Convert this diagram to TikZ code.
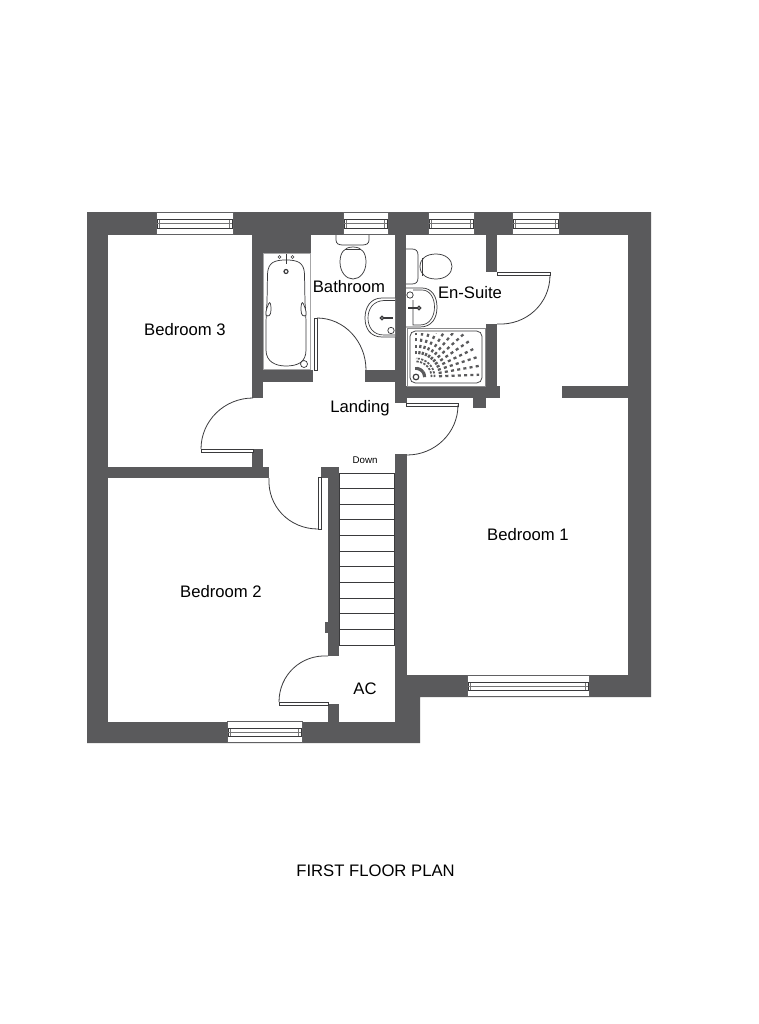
\documentclass[tikz,border=0pt]{standalone}
\usepackage{fontspec}
\setmainfont{Liberation Sans}
\usetikzlibrary{calc}
\definecolor{wall}{HTML}{5A5A5C}
\definecolor{ink}{HTML}{3A3A3C}
\tikzset{
  wallfill/.style={fill=wall,draw=none},
  room/.style={fill=white,draw=none},
  thin line/.style={draw=ink,line width=.6pt},
  fix/.style={draw=ink,line width=.55pt,fill=white},
  leaf/.style={draw=ink,line width=.6pt,fill=white},
  swing/.style={draw=ink,line width=.6pt},
  lab/.style={anchor=base,inner sep=0pt,font=\fontsize{12.5pt}{14pt}\selectfont,text=black},
  small lab/.style={anchor=base,inner sep=0pt,font=\fontsize{7.3pt}{9pt}\selectfont,text=black},
}
\newcommand\rrect[4]{\fill[room] (#1,#2) rectangle (#3,#4);}
\newcommand\wrect[4]{\fill[wallfill] (#1,#2) rectangle (#3,#4);}
% door: leaf rectangle + swing arc (A to B about C)
\newcommand\doorarc[3]{\draw[swing] (#1) .. controls ($(#1)+0.5523*(#2)-0.5523*(#3)$) and ($(#2)+0.5523*(#1)-0.5523*(#3)$) .. (#2);}
% horizontal window x0,x1,ytop,ybottom
\newcommand\winh[4]{%
  \fill[white] (#1,#3) rectangle (#2,#4);
  \draw[draw=ink!80,line width=.55pt] (#1,#3+.3) -- (#2,#3+.3) (#1,#4-.6) -- (#2,#4-.6) (#1,#3) -- (#1,#4) (#2,#3) -- (#2,#4);
  \draw[draw=ink,line width=.6pt] (#1+1,#3+7.5) rectangle (#2-1,#4-7);
  \draw[draw=ink!70,line width=.9pt] (#1+1,{(#3+#4)/2+.2}) -- (#2-1,{(#3+#4)/2+.2});
  \draw[draw=ink!70,line width=.5pt] (#1+3.5,#3+7.5) -- (#1+3.5,#4-7) (#2-3.5,#3+7.5) -- (#2-3.5,#4-7);
}
\begin{document}
\begin{tikzpicture}[x=.75pt,y=-.75pt]
\useasboundingbox (0,0) rectangle (759,1024);
\fill[white] (0,0) rectangle (759,1024);
% shell
\fill[wallfill] (87,212) -- (651,212) -- (651,697) -- (420,697) -- (420,743) -- (87,743) -- cycle;
% rooms
\rrect{108}{235}{252}{467}   % bedroom 3
\rrect{252}{398}{264}{449}   % bed3 door opening
\rrect{108}{478}{328}{722}   % bedroom 2
\rrect{263}{253}{311}{370}   % bath alcove
\rrect{311}{235}{395}{370}   % bathroom
\rrect{313}{370}{365}{382}   % bathroom door
\rrect{263}{382}{395}{467}   % landing
\rrect{269}{467}{321}{478}   % bed 2 door
\rrect{339}{467}{395}{722}   % stair + AC
\rrect{321}{478}{328}{530}   % door recess
\rrect{328}{656}{339}{704}   % AC door
\rrect{395}{403}{407}{454}   % bed 1 door
\rrect{406}{235}{486}{386}   % en-suite
\rrect{486}{272}{497}{324}   % en-suite door
\rrect{497}{235}{628}{386}   % upper bed 1
\rrect{500}{386}{562}{398}
\rrect{407}{398}{628}{675}   % bedroom 1
% wall details
\wrect{473}{398}{486}{408}
\wrect{325}{622}{328}{633}
% windows
\winh{156}{233}{212}{235}
\winh{343}{388}{212}{235}
\winh{428}{474}{212}{235}
\winh{512}{559}{212}{235}
\winh{467}{589}{675}{697}
\winh{227}{302}{721}{743}
% doors
\draw[leaf] (201,449) rectangle (253,452);
\doorarc{201,449}{253,398}{253,449}
\draw[leaf] (314,318) rectangle (317,370);
\doorarc{317,318}{366,370}{317,370}
\draw[leaf] (318,477) rectangle (321.5,529);
\doorarc{318,529}{269,478}{321,478}
\draw[leaf] (406,403) rectangle (458,406);
\doorarc{458,405}{407,455}{407,405}
\draw[leaf] (497,272) rectangle (550,275);
\doorarc{550,275}{497,324}{497,272}
\draw[leaf] (279,702) rectangle (328,705);
\doorarc{279,702}{328,656}{328,705}
% stairs
\draw[thin line] (339,473) rectangle (394,645);
\foreach \k in {1,...,10} {\draw[thin line] (339,645-15.64*\k) -- (394,645-15.64*\k);}
% bath
\draw[draw=ink!45,line width=.5pt] (263.5,253.5) rectangle (310.5,369.5);
\draw[fix] (286,260) .. controls (275,260) and (268,262) .. (267.5,274) -- (267,303)
  .. controls (266,312) and (266,320) .. (266,350) .. controls (266,362) and (276,366) .. (286,366)
  .. controls (298,366) and (306,362) .. (306,350) .. controls (306,320) and (306,312) .. (305,303)
  -- (304.5,274) .. controls (304,262) and (297,260) .. (286,260) -- cycle;
\draw[fix] (268.5,304) .. controls (270,301) and (271,303) .. (271,310) .. controls (271,316) and (268,317) .. (266,315) .. controls (265.5,311) and (267,308) .. (268.5,304) -- cycle;
\draw[fix] (303.5,304) .. controls (302,301) and (301,303) .. (301,310) .. controls (301,316) and (304,317) .. (306,315) .. controls (306.5,311) and (305,308) .. (303.5,304) -- cycle;
\draw[ink,line width=.7pt] (286,254) -- (286,264);
\draw[ink,line width=.5pt] (279.5,257) circle (1.5) (292.5,257) circle (1.5);
\draw[ink,line width=.9pt] (286,271.5) circle (2);
\draw[fix] (304,364) circle (3.5);
% bathroom WC
\draw[fix] (336,235) -- (336,240) .. controls (336,244) and (339,245) .. (343,245) -- (362,245) .. controls (366,245) and (369,244) .. (369,240) -- (369,235);
\draw[fix] (340,262) .. controls (340,253) and (344,247) .. (353,247) .. controls (362,247) and (366,253) .. (366,262) .. controls (366,272) and (360,279) .. (353,279) .. controls (346,279) and (340,272) .. (340,262) -- cycle;
\draw[ink,line width=.5pt] (345,249) -- (361,249);
% bathroom basin
\draw[fix] (395,298) -- (382,298) .. controls (370,298) and (365,308) .. (365,318) .. controls (365,328) and (370,337) .. (382,337) -- (395,337);
\draw[ink,line width=.5pt] (395,300.5) -- (384,300.5) .. controls (373,301) and (368,309) .. (368,318) .. controls (368,327) and (373,335) .. (384,335) -- (395,335);
\draw[ink,line width=.9pt] (382,318) circle (1.8);
\draw[ink,line width=.8pt] (384,318) -- (393,318);
\draw[fix] (391,330.5) circle (3.2);
% en-suite WC
\draw[fix] (406,249) -- (412,249) .. controls (416,249) and (418,251) .. (418,255) -- (418,278) .. controls (418,282) and (416,284) .. (412,284) -- (406,284);
\draw[fix] (420,266.5) .. controls (420,259) and (426,254) .. (436,254) .. controls (446,254) and (452,260) .. (452,266.5) .. controls (452,273) and (446,279) .. (436,279) .. controls (426,279) and (420,274) .. (420,266.5) -- cycle;
\draw[ink,line width=.5pt] (422,258) -- (422,276);
% en-suite basin
\draw[fix] (406,288) -- (422,288) .. controls (432,288) and (437,297) .. (437,307) .. controls (437,318) and (432,327) .. (420,327) -- (406,327) ;
\draw[ink,line width=.5pt] (413,290) -- (422,290) .. controls (430,290) and (434.5,298) .. (434.5,307) .. controls (434.5,316) and (430,325) .. (420,325) -- (413,325) -- (413,300);
\draw[ink,line width=.9pt] (419,308) circle (1.8);
\draw[ink,line width=.8pt] (408,308) -- (417,308);
\draw[fix] (410,295) circle (3.2);
% shower
\draw[draw=ink!60,line width=.5pt] (407,328) rectangle (485,386);
\draw[fix] (410,331) [rounded corners=4pt] rectangle (482,383);
\begin{scope}
\clip (412.5,333) rectangle (479,381);
\foreach \a in {2,10,...,90} {
  \draw[draw=wall,line width=1.7pt,dash pattern=on 2.3pt off 2.4pt]
    plot coordinates {({416+23*cos(\a)},{377-23*sin(\a)}) ({416+66*cos(\a)},{377-66*sin(\a)})};
}
\foreach \a in {6,18,...,90} {
  \draw[draw=wall,line width=1.6pt,dash pattern=on 2.3pt off 2.4pt]
    plot coordinates {({416+7*cos(\a)},{377-7*sin(\a)}) ({416+13*cos(\a)},{377-13*sin(\a)})};
}
\foreach \r in {15.5,18.5} {
  \draw[draw=wall,line width=1.3pt,dash pattern=on 1.7pt off 1pt]
    plot[domain=0:90,samples=24,smooth] ({416+\r*cos(\x)},{377-\r*sin(\x)});
}
\end{scope}
\fill[white] (416,377) circle (4.5);
\draw[ink,line width=.9pt,fill=white] (416,377) circle (2.8);
% labels
\node[lab] (bed3) at (185,335) {Bedroom 3};
\node[lab] (bathroom) at (349,292) {Bathroom};
\node[lab] (ensuite) at (470,298) {En-Suite};
\node[lab] (landing) at (360,412) {Landing};
\node[small lab] (down) at (365,463) {Down};
\node[lab] (bed2) at (221,597) {Bedroom 2};
\node[lab] (bed1) at (528,540) {Bedroom 1};
\node[lab] (ac) at (365,694) {AC};
\node[lab] (title) at (375.5,876) {FIRST FLOOR PLAN};
\end{tikzpicture}
\end{document}
